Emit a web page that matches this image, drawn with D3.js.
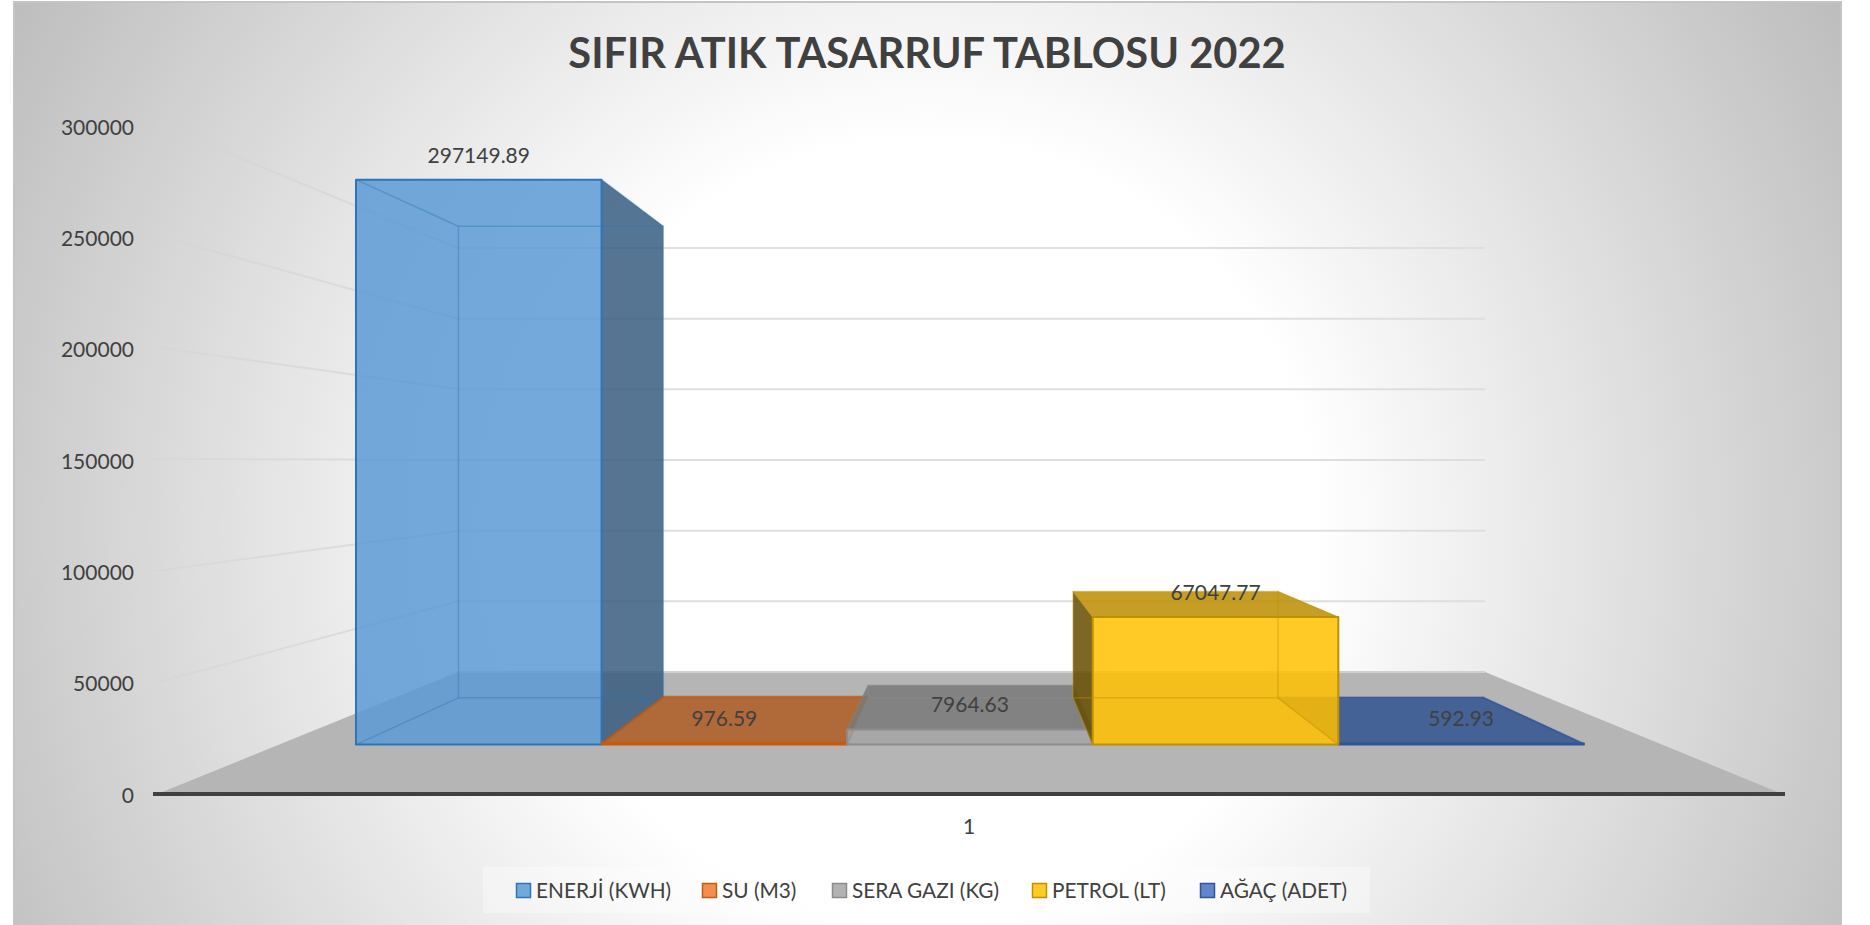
<!DOCTYPE html>
<html><head><meta charset="utf-8">
<script src="https://cdnjs.cloudflare.com/ajax/libs/d3/7.8.5/d3.min.js"></script>
<style>html,body{margin:0;padding:0;background:#fff;overflow:hidden}svg{display:block}text{font-family:Lato,"Open Sans",sans-serif;fill:#404040}</style>
</head><body><svg id="c" width="1870" height="925"></svg>
<script>
const chartTitle = "SIFIR ATIK TASARRUF TABLOSU 2022";
const seriesNames = ["ENERJİ (KWH)","SU (M3)","SERA GAZI (KG)","PETROL (LT)","AĞAÇ (ADET)"];
const seriesValues = [297149.89,976.59,7964.63,67047.77,592.93];
const valueLabels = ["297149.89","976.59","7964.63","67047.77","592.93"];
const seriesColors = ["#5B9BD5","#ED7D31","#A5A5A5","#FFC000","#4472C4"];
const edgeColors = ["#2E75B6","#C55A11","#8C8C8C","#BF9000","#2F5597"];
const yTicks = [0,50000,100000,150000,200000,250000,300000];
const categoryLabels = ["1"];
const legendSwatchX = [516,702,832,1032,1200];
const drawOrder = [0,1,2,4,3];

const svg = d3.select("#c"), defs = svg.append("defs");
const vMax = 300000;
// perspective: t = 0 at the front of the floor, t = 1 at the back wall
const floorY = d3.scaleLinear([0,1],[795,672]);
const topY = d3.scaleLinear([0,1],[123,248]);
const leftX = d3.scaleLinear([0,1],[155,458]);
const rightX = d3.scaleLinear([0,1],[1785,1485]);
const yAt = (v,t)=>d3.scaleLinear([0,vMax],[floorY(t),topY(t)])(v);
const xAt = (f,t)=>d3.scaleLinear([0,1],[leftX(t),rightX(t)])(f);
const band = d3.scaleBand().domain(seriesNames).range([0.0555,0.9435]);
const tFront = 0.41, tBack = 0.79;
const tickLabelY = d3.scaleLinear([0,vMax],[794,126]);
const poly = pts => pts.map(p=>p.join(",")).join(" ");
const shade = (c,k)=>{const r=d3.rgb(c);return d3.rgb(r.r*k,r.g*k,r.b*k).formatHex();};

// background
const grad = defs.append("radialGradient").attr("id","bg").attr("gradientUnits","userSpaceOnUse")
  .attr("cx",925).attr("cy",530).attr("r",1056);
grad.append("stop").attr("offset","0.37").attr("stop-color","#ffffff");
grad.append("stop").attr("offset","1").attr("stop-color","#bdbdbd");
svg.append("rect").attr("x",14).attr("y",2).attr("width",1827).attr("height",930)
  .attr("fill","url(#bg)").attr("stroke","#c4c4c4").attr("stroke-width",2);

// title
svg.append("text").attr("x",927).attr("y",52).attr("text-anchor","middle").attr("dominant-baseline","central")
  .attr("font-size",41.6).attr("font-weight",700).text(chartTitle);

// floor
svg.append("polygon").attr("fill","#B5B5B5")
  .attr("points",poly([[leftX(0),floorY(0)],[leftX(1),floorY(1)],[rightX(1),floorY(1)],[rightX(0),floorY(0)]]));

// gridlines on side wall and back wall
const gridGrad = defs.append("linearGradient").attr("id","gridFade").attr("gradientUnits","userSpaceOnUse")
  .attr("x1",leftX(0)).attr("x2",leftX(1)).attr("y1",0).attr("y2",0);
gridGrad.append("stop").attr("offset",0).attr("stop-color","#d2d2d2").attr("stop-opacity",0.35);
gridGrad.append("stop").attr("offset",1).attr("stop-color","#d8d8d8").attr("stop-opacity",1);
const grid = svg.append("g").attr("stroke-width",2).attr("fill","none");
yTicks.forEach(v=>{
  if(v===0){
    grid.append("line").attr("stroke","#d0d0d0").attr("x1",xAt(0,1)).attr("x2",xAt(1,1)).attr("y1",yAt(0,1)).attr("y2",yAt(0,1));
    return;
  }
  grid.append("line").attr("stroke","url(#gridFade)").attr("x1",leftX(0)).attr("y1",yAt(v,0)).attr("x2",leftX(1)).attr("y2",yAt(v,1));
  grid.append("line").attr("stroke","#dedede").attr("x1",leftX(1)).attr("y1",yAt(v,1)).attr("x2",rightX(1)).attr("y2",yAt(v,1));
});

// axis line
svg.append("line").attr("x1",153).attr("x2",1785).attr("y1",794).attr("y2",794).attr("stroke","#404040").attr("stroke-width",4);

// tick labels
svg.append("g").selectAll("text").data(yTicks).join("text")
  .attr("x",134).attr("y",d=>tickLabelY(d)).attr("text-anchor","end").attr("dominant-baseline","central")
  .attr("font-size",21).text(d=>d);
svg.append("g").selectAll("text").data(categoryLabels).join("text")
  .attr("x",969).attr("y",825).attr("text-anchor","middle").attr("dominant-baseline","central")
  .attr("font-size",21).text(d=>d);

// bars
drawOrder.forEach(i=>{
  const name = seriesNames[i], v = seriesValues[i], c = seriesColors[i], e = edgeColors[i];
  const x0 = band(name), x1 = x0 + band.bandwidth();
  const P = (f,t,val)=>[xAt(f,t),yAt(val,t)];
  const fbl=P(x0,tFront,0), fbr=P(x1,tFront,0), ftl=P(x0,tFront,v), ftr=P(x1,tFront,v);
  const bbl=P(x0,tBack,0), bbr=P(x1,tBack,0), btl=P(x0,tBack,v), btr=P(x1,tBack,v);
  const g = svg.append("g");
  // the shaded faces do not show through the front face
  const clipId = "outside"+i;
  defs.append("clipPath").attr("id",clipId).append("path").attr("clip-rule","evenodd")
    .attr("d",`M0,0H1870V925H0Z M${fbl}L${fbr}L${ftr}L${ftl}Z`);
  const shaded = g.append("g").attr("clip-path",`url(#${clipId})`).attr("opacity",0.85);
  const face=(pts,k)=>shaded.append("polygon").attr("points",poly(pts)).attr("fill",shade(c,k));
  const topFace=()=>face([ftl,ftr,btr,btl],0.74);
  const viewedFromAbove = btl[1] < ftl[1];
  if(!viewedFromAbove) topFace();
  face([fbl,bbl,btl,ftl],0.4);   // left
  face([fbr,bbr,btr,ftr],0.6);   // right
  if(viewedFromAbove) topFace();
  g.append("polygon").attr("points",poly([fbl,fbr,ftr,ftl])).attr("fill",c).attr("fill-opacity",0.85); // front
  // wireframe seen through the glass
  const wire = g.append("g").attr("stroke",e).attr("stroke-width",1.5).attr("stroke-opacity",0.4).attr("fill","none");
  wire.append("polygon").attr("points",poly([bbl,bbr,btr,btl]));
  [[fbl,bbl],[fbr,bbr],[ftl,btl],[ftr,btr]].forEach(([a,b])=>wire.append("line").attr("x1",a[0]).attr("y1",a[1]).attr("x2",b[0]).attr("y2",b[1]));
  // outer edges
  g.append("polygon").attr("points",poly([fbl,fbr,ftr,ftl])).attr("fill","none").attr("stroke",e).attr("stroke-width",2).attr("stroke-linejoin","round");
});

// value labels
svg.append("g").selectAll("text").data(seriesNames).join("text")
  .attr("x",d=>xAt(band(d)+band.bandwidth()/2,tFront))
  .attr("y",(d,i)=>yAt(seriesValues[i],tFront)-25.5)
  .attr("text-anchor","middle").attr("dominant-baseline","central").attr("font-size",21)
  .text((d,i)=>valueLabels[i]);

// legend
svg.append("rect").attr("x",483).attr("y",867).attr("width",887).attr("height",46).attr("fill","#ffffff").attr("fill-opacity",0.35);
const lg = svg.append("g").selectAll("g").data(seriesNames).join("g").attr("transform",(d,i)=>`translate(${legendSwatchX[i]},883)`);
lg.append("rect").attr("x",0.5).attr("y",0.5).attr("width",14).attr("height",14)
  .attr("fill",(d,i)=>seriesColors[i]).attr("fill-opacity",0.85).attr("stroke",(d,i)=>edgeColors[i]).attr("stroke-width",1.5);
lg.append("text").attr("x",20).attr("y",6.5).attr("dominant-baseline","central").attr("font-size",20.8).text(d=>d);
</script></body></html>
